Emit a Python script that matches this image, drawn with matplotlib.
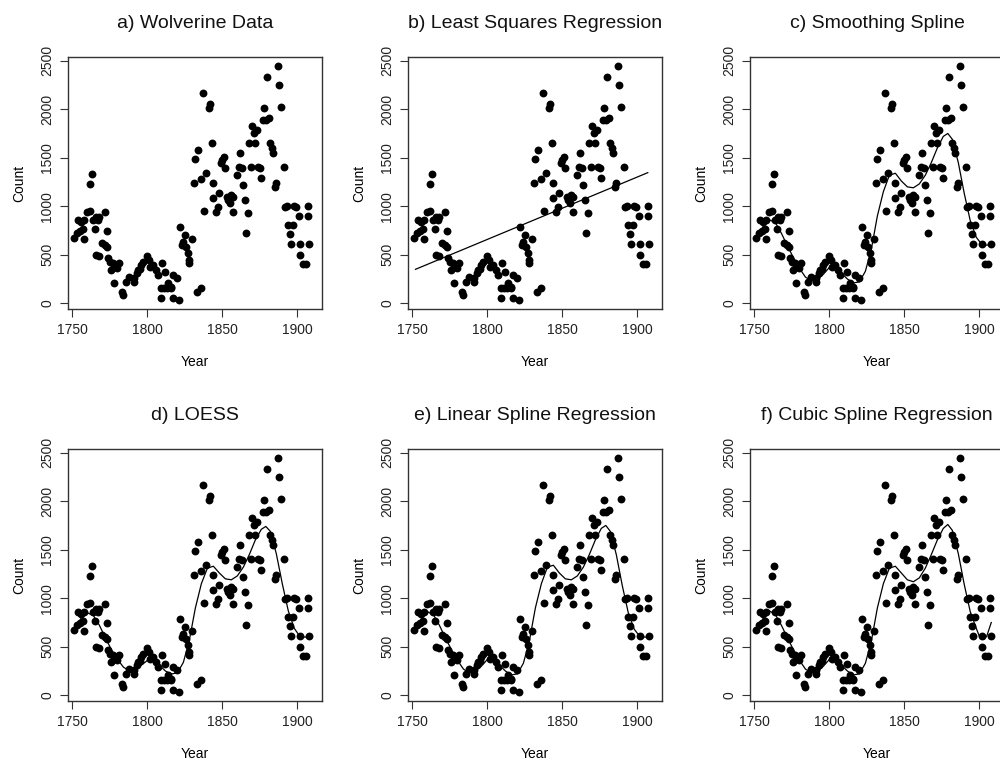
import numpy as np
import matplotlib.pyplot as plt

plt.rcParams['font.family'] = ['Liberation Sans', 'DejaVu Sans']

# wolverine counts (year, count)
years = [1751, 1753, 1755, 1757, 1754, 1756, 1758, 1758, 1760, 1762, 1762, 1763,
         1764, 1765, 1766, 1767, 1768, 1772, 1773, 1766, 1768, 1770, 1772, 1773,
         1774, 1775, 1776, 1777, 1778, 1780, 1781, 1778, 1783, 1784, 1786, 1788,
         1791, 1791, 1793, 1794, 1795, 1796, 1797, 1800, 1801, 1802, 1804, 1806,
         1807, 1809, 1810, 1811, 1813, 1814, 1816, 1816, 1812, 1809, 1817, 1817,
         1820, 1821, 1822, 1823, 1824, 1825, 1826, 1827, 1828, 1828, 1830, 1833,
         1836, 1831, 1832, 1834, 1836, 1837, 1838, 1839, 1841, 1842, 1843, 1844,
         1844, 1846, 1847, 1848, 1849, 1850, 1851, 1852, 1853, 1854, 1855, 1856,
         1857, 1857, 1860, 1861, 1862, 1863, 1864, 1865, 1866, 1867, 1868, 1869,
         1870, 1871, 1872, 1873, 1874, 1875, 1876, 1877, 1878, 1879, 1880, 1881,
         1882, 1883, 1884, 1885, 1886, 1887, 1888, 1889, 1891, 1892, 1893, 1894,
         1895, 1896, 1897, 1898, 1899, 1901, 1902, 1902, 1904, 1906, 1907, 1907,
         1908]
counts = [676, 721, 749, 762, 859, 841, 858, 659, 945, 955, 1230, 1329,
          858, 762, 893, 858, 893, 944, 748, 498, 488, 618, 601, 584,
          464, 429, 343, 412, 378, 360, 412, 206, 120, 86, 223, 275,
          258, 216, 309, 343, 350, 395, 429, 488, 447, 378, 395, 343,
          292, 154, 412, 154, 154, 206, 154, 165, 326, 52, 52, 292,
          264, 34, 790, 601, 635, 704, 584, 515, 447, 412, 663, 120,
          154, 1243, 1484, 1580, 1277, 2171, 955, 1340, 2009, 2050, 1648, 1236,
          1082, 944, 996, 1133, 1442, 1476, 1504, 1391, 1099, 1065, 1030, 1116,
          1099, 944, 1322, 1408, 1545, 1391, 1219, 1065, 721, 927, 1648, 1401,
          1830, 1758, 1648, 1786, 1408, 1391, 1288, 1889, 2009, 1889, 2335, 1906,
          1648, 1597, 1545, 1202, 1236, 2445, 2250, 2026, 1400, 996, 1003, 807,
          714, 611, 807, 1003, 996, 903, 611, 498, 405, 405, 903, 1006,
          611]

# least squares line (ends)
ls_years = [1752, 1907]
ls_counts = [350, 1346]

curve_years = [1752, 1756, 1760, 1764, 1768, 1772, 1776, 1780, 1784, 1788, 1792,
               1796, 1800, 1804, 1808, 1812, 1816, 1820, 1824, 1828, 1832, 1836,
               1840, 1844, 1848, 1852, 1856, 1860, 1864, 1868, 1872, 1876, 1879,
               1882, 1886, 1890, 1894, 1898, 1902, 1906]
spline_counts = [680, 800, 860, 830, 720, 590, 470, 360, 270, 230, 240,
                 300, 370, 370, 310, 250, 210, 220, 330, 560, 900, 1150,
                 1320, 1340, 1260, 1200, 1190, 1230, 1320, 1450, 1600, 1720, 1750,
                 1690, 1450, 1130, 850, 680, 600, 600]
loess_counts = [700, 800, 850, 820, 720, 590, 470, 370, 290, 250, 260,
                310, 360, 360, 310, 250, 220, 230, 340, 570, 900, 1150,
                1310, 1330, 1260, 1200, 1190, 1230, 1320, 1450, 1600, 1710, 1740,
                1690, 1460, 1150, 870, 690, 600, 600]
linspl_counts = [690, 790, 860, 830, 720, 590, 470, 360, 270, 230, 250,
                 300, 370, 370, 310, 250, 210, 220, 330, 560, 900, 1150,
                 1320, 1340, 1260, 1200, 1190, 1230, 1320, 1450, 1600, 1720, 1750,
                 1690, 1450, 1130, 850, 680, 600, 600]
cubspl_years = curve_years[:-2] + [1900, 1903, 1905, 1908]
cubspl_counts = [670, 800, 870, 830, 720, 590, 470, 360, 270, 230, 240,
                 300, 370, 370, 310, 250, 210, 220, 330, 560, 900, 1150,
                 1310, 1330, 1260, 1190, 1170, 1210, 1310, 1450, 1600, 1720, 1760,
                 1700, 1460, 1140, 860, 690, 610, 575, 610, 750]

titles = ["a) Wolverine Data", "b) Least Squares Regression", "c) Smoothing Spline",
          "d) LOESS", "e) Linear Spline Regression", "f) Cubic Spline Regression"]
fits = [None, (ls_years, ls_counts), (curve_years, spline_counts),
        (curve_years, loess_counts), (curve_years, linspl_counts),
        (cubspl_years, cubspl_counts)]

fig = plt.figure(figsize=(10, 7.65), dpi=100)
W, H = 1000, 765
lefts = [68, 408, 750]
tops = [57, 449]
aw, ah = 254, 252

for i in range(6):
    r, c = divmod(i, 3)
    ax = fig.add_axes([lefts[c] / W, 1 - (tops[r] + ah) / H, aw / W, ah / H])
    ax.scatter(years, counts, s=32, color='black', linewidths=0, zorder=3)
    if fits[i] is not None:
        ax.plot(fits[i][0], fits[i][1], color='black', lw=0.9, zorder=2)
    ax.set_xlim(1747, 1916.5)
    ax.set_ylim(-59, 2538)
    ax.set_xticks([1750, 1800, 1850, 1900])
    ax.set_yticks([0, 500, 1000, 1500, 2000, 2500])
    ax.tick_params(direction='out', length=6, width=0.8, labelsize=10,
                   color='#333333', labelcolor='#222222', pad=4)
    for lab in ax.get_yticklabels():
        lab.set_rotation(90)
        lab.set_va('center')
    for sp in ax.spines.values():
        sp.set_color('#333333')
        sp.set_linewidth(1.0)
    ax.set_title(titles[i], fontsize=14, pad=21, color='#111111')
    ax.set_xlabel("Year", fontsize=10, labelpad=13)
    ax.set_ylabel("Count", fontsize=10, labelpad=10)

fig.savefig("out.png", dpi=100)
